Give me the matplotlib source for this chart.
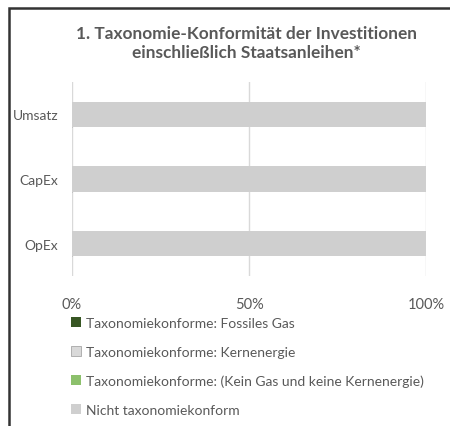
import matplotlib.pyplot as plt
from matplotlib.patches import Rectangle

plt.rcParams['font.family'] = ['Lato', 'DejaVu Sans']

categories = ["Umsatz", "CapEx", "OpEx"]
series_names = [
    "Taxonomiekonforme: Fossiles Gas",
    "Taxonomiekonforme: Kernenergie",
    "Taxonomiekonforme: (Kein Gas und keine Kernenergie)",
    "Nicht taxonomiekonform",
]
fossil_gas = [0, 0, 0]
nuclear = [0, 0, 0]
other_aligned = [0, 0, 0]
not_aligned = [100, 100, 100]
x_ticks = [0, 50, 100]
x_tick_labels = ["0%", "50%", "100%"]

colors = ["#375623", "#d9d9d9", "#8cc06c", "#cfcfcf"]
edges = ["none", "#a6a6a6", "none", "none"]
text_col = "#595959"

fig = plt.figure(figsize=(4.5, 4.27), dpi=100)
ax = fig.add_axes([0.16, 0.351, 0.787, 0.455])

values = [fossil_gas, nuclear, other_aligned, not_aligned]
left = [0, 0, 0]
handles = []
for name, vals, c, ec in zip(series_names, values, colors, edges):
    b = ax.barh(categories, vals, left=left, height=0.39, color=c,
                edgecolor=ec, linewidth=0.6 if ec != "none" else 0, label=name, zorder=3)
    handles.append(b)
    left = [l + v for l, v in zip(left, vals)]

ax.set_xlim(0, 100)
ax.set_ylim(2.5, -0.5)
ax.set_xticks(x_ticks)
ax.set_xticklabels(x_tick_labels)
ax.tick_params(axis='x', length=0, pad=15, labelsize=10.5, labelcolor=text_col)
ax.tick_params(axis='y', length=0, pad=10, labelsize=10, labelcolor=text_col)
ax.grid(axis='x', color="#d9d9d9", linewidth=1, zorder=0)
for s in ax.spines.values():
    s.set_visible(False)

fig.text(0.548, 0.899, "1. Taxonomie-Konformität der Investitionen\neinschließlich Staatsanleihen*",
         ha='center', va='center', fontsize=12.4, fontweight='bold', color=text_col,
         linespacing=1.25)

leg = fig.legend(handles=handles, loc='upper left', bbox_to_anchor=(0.158, 0.255),
                 frameon=False, fontsize=10, labelcolor=text_col, handlelength=0.7,
                 handleheight=0.7, handletextpad=0.35, labelspacing=1.2,
                 borderaxespad=0, borderpad=0)

fig.patches.append(Rectangle((0.02, -0.1), 1.1, 1.079, transform=fig.transFigure,
                             fill=False, edgecolor="#333333", linewidth=1.8))

fig.savefig("out.png", dpi=100)
